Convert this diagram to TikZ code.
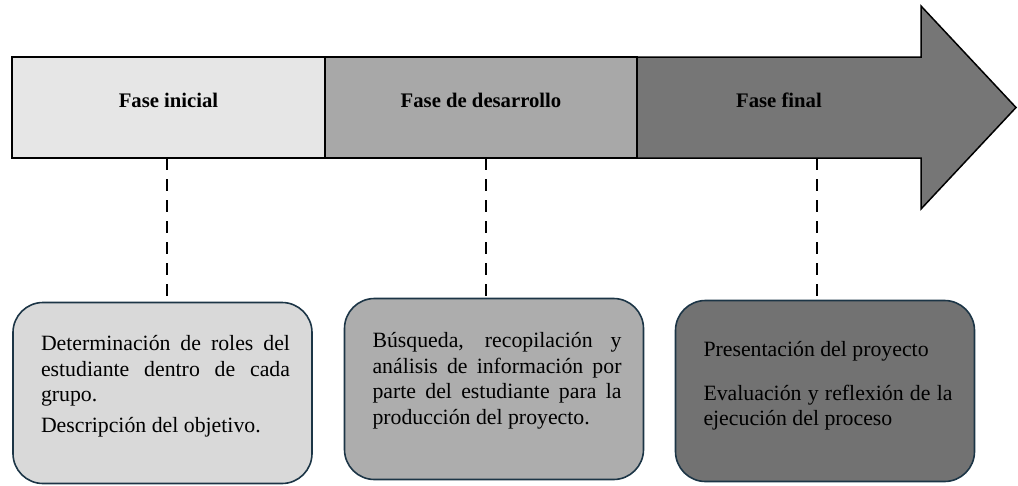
\documentclass[tikz,border=0pt]{standalone}
\usepackage{fontspec}
\setmainfont{Liberation Serif}
\usetikzlibrary{positioning}
\usetikzlibrary{calc}

\definecolor{bandone}{HTML}{E6E6E6}
\definecolor{bandtwo}{HTML}{A8A8A8}
\definecolor{bandthree}{HTML}{767676}
\definecolor{cardone}{HTML}{D9D9D9}
\definecolor{cardtwo}{HTML}{ADADAD}
\definecolor{cardthree}{HTML}{727272}
\definecolor{cardline}{HTML}{1C3546}

% card body: first baseline offset, text
\newcommand{\cardbody}[2]{\hspace*{6pt}\parbox[c][181pt][t]{249pt}{\hyphenpenalty=10000\tolerance=9999\rule{0pt}{#1}#2}}

\tikzset{
    phase/.style={draw=black, line width=1.5pt, minimum height=101pt, outer sep=0pt, inner sep=0pt,
        text height=14pt, text depth=14pt, font=\bfseries\fontsize{20.7}{24}\selectfont},
    card/.style={draw=cardline, line width=1.6pt, rounded corners=30pt, minimum width=299pt, inner sep=0pt,
        font=\fontsize{21.8}{25.5}\selectfont},
    link/.style={line width=2.6pt, dash pattern=on 12pt off 9pt}
}

\begin{document}
\begin{tikzpicture}[x=1pt, y=-1pt, line join=miter]
    \useasboundingbox (0,0) rectangle (1018,485);
    %Phases
    \node[phase, fill=bandone, minimum width=313pt, anchor=north west] (ini) at (12,57) {Fase inicial};
    \node[phase, fill=bandtwo, minimum width=312pt, right=0pt of ini] (dev) {Fase de desarrollo};
    \node[phase, draw=none, fill=bandthree, minimum width=284pt, right=0pt of dev] (fin) {Fase final};
    %Arrow head
    \coordinate (headtop) at (921,6);
    \coordinate (tip) at (1016,107.5);
    \coordinate (headbot) at (921,209);
    \fill[bandthree] (fin.north east) -- (headtop) -- (tip) -- (headbot) -- (fin.south east) -- cycle;
    \draw[line width=1.5pt] (fin.south west) -- (fin.north west) -- (fin.north east) -- (headtop) -- (tip) -- (headbot) -- (fin.south east) -- cycle;

    %Cards
    \node[card, fill=cardone] (roles) at (162.5,393) {\cardbody{48pt}{Determinación de roles del estudiante dentro de cada grupo.\par\vspace{5pt}Descripción del objetivo.}};
    \node[card, fill=cardtwo] (search) at (494,389) {\cardbody{49pt}{Búsqueda, recopilación y análisis de información por parte del estudiante para la producción del proyecto.}};
    \node[card, fill=cardthree] (present) at (825,391) {\cardbody{56pt}{Presentación del proyecto\par\vspace{18pt}Evaluación y reflexión de la ejecución del proceso}};

    %Phase - card
    \draw[link] ({167,0} |- ini.south) -- ({167,0} |- roles.north);
    \draw[link] ({486,0} |- dev.south) -- ({486,0} |- search.north);
    \draw[link] ({817,0} |- fin.south) -- ({817,0} |- present.north);
\end{tikzpicture}
\end{document}
